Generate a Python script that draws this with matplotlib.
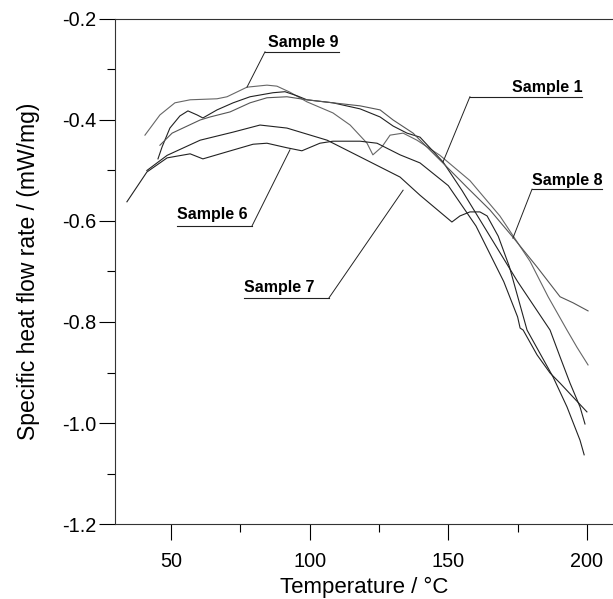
import numpy as np
import matplotlib
matplotlib.use("Agg")
import matplotlib.pyplot as plt
from matplotlib.ticker import MultipleLocator

plt.rcParams["font.family"] = ["Liberation Sans", "DejaVu Sans"]
plt.rcParams["axes.unicode_minus"] = False

# curves (temperature in degC, heat flow in mW/mg)
t9 = [40.6, 46.0, 51.4, 56.9, 66.6, 70.2, 77.4, 84.6, 88.2, 92.9, 99.0, 108.4, 114.6,
      120.7, 122.8, 126.1, 129.0, 133.7, 138.7, 147.0, 157.8, 168.6, 179.5, 186.0, 192.8,
      196.4, 200.4]
v9 = [-0.430, -0.390, -0.366, -0.360, -0.358, -0.354, -0.335, -0.331, -0.333, -0.345, -0.364,
      -0.386, -0.410, -0.446, -0.469, -0.453, -0.430, -0.426, -0.440, -0.470, -0.520, -0.590,
      -0.680, -0.750, -0.816, -0.850, -0.885]

t1 = [45.3, 46.8, 49.6, 53.2, 56.1, 59.4, 61.5, 66.6, 72.4, 78.5, 86.8, 91.1, 95.4, 99.0,
      108.4, 118.2, 125.4, 130.1, 135.1, 139.8, 148.1, 155.0, 165.0, 175.0, 186.7, 190.3,
      193.9, 197.5, 199.3]
v1 = [-0.477, -0.453, -0.416, -0.392, -0.382, -0.390, -0.396, -0.380, -0.366, -0.354, -0.346,
      -0.344, -0.352, -0.360, -0.366, -0.378, -0.394, -0.412, -0.426, -0.434, -0.483, -0.540,
      -0.630, -0.720, -0.816, -0.869, -0.921, -0.968, -1.002]

t8 = [46.0, 50.4, 60.5, 64.1, 71.3, 78.5, 84.6, 91.8, 99.0, 108.4, 118.2, 125.4, 130.1,
      137.3, 140.9, 149.5, 156.7, 165.0, 173.3, 182.0, 190.3, 195.0, 200.4]
v8 = [-0.450, -0.426, -0.400, -0.394, -0.384, -0.366, -0.356, -0.354, -0.360, -0.366, -0.372,
      -0.380, -0.400, -0.426, -0.446, -0.493, -0.533, -0.578, -0.632, -0.691, -0.750, -0.762,
      -0.778]

t7 = [41.3, 48.6, 60.5, 72.4, 82.1, 91.8, 106.3, 118.2, 132.6, 139.8, 151.3, 154.2, 157.8,
      161.4, 164.0, 168.0, 172.0, 178.4, 187.8, 192.8, 197.5, 199.0]
v7 = [-0.500, -0.470, -0.440, -0.424, -0.410, -0.416, -0.440, -0.473, -0.513, -0.549, -0.602,
      -0.590, -0.582, -0.582, -0.590, -0.630, -0.690, -0.816, -0.909, -0.968, -1.034, -1.063]

t6 = [34.1, 41.3, 48.6, 56.9, 61.5, 70.2, 79.6, 84.6, 91.8, 97.2, 103.7, 108.4, 118.2, 124.3,
      132.6, 139.8, 150.0, 160.0, 170.0, 175.0, 175.9, 177.0, 182.0, 186.7, 190.3, 200.0]
v6 = [-0.562, -0.503, -0.475, -0.467, -0.477, -0.463, -0.448, -0.446, -0.455, -0.461, -0.446,
      -0.442, -0.442, -0.446, -0.469, -0.485, -0.530, -0.610, -0.720, -0.790, -0.812, -0.816,
      -0.865, -0.901, -0.921, -0.978]

fig = plt.figure(figsize=(6.13, 5.99), dpi=100)
ax = fig.add_axes([0.1876, 0.1252, 0.8124, 0.8431])

ax.plot(t9, v9, color="#666666", lw=0.8)
ax.plot(t1, v1, color="#222222", lw=0.8)
ax.plot(t8, v8, color="#555555", lw=0.8)
ax.plot(t7, v7, color="#222222", lw=0.8)
ax.plot(t6, v6, color="#222222", lw=0.8)

ax.set_xlim(29.8, 209.4)
ax.set_ylim(-1.2, -0.2)
ax.xaxis.set_major_locator(MultipleLocator(50))
ax.xaxis.set_minor_locator(MultipleLocator(25))
ax.yaxis.set_major_locator(MultipleLocator(0.2))
ax.yaxis.set_minor_locator(MultipleLocator(0.1))
ax.yaxis.set_major_formatter(matplotlib.ticker.FormatStrFormatter("%.1f"))
ax.tick_params(which="major", direction="out", length=11.5, width=0.8, labelsize=14.3)
ax.tick_params(which="minor", direction="out", length=5.5, width=0.8)
ax.tick_params(axis="x", pad=9)
ax.tick_params(axis="y", pad=2)
ax.spines["right"].set_visible(False)
for s in ["left", "bottom", "top"]:
    ax.spines[s].set_linewidth(0.8)
    ax.spines[s].set_color("#333333")

ax.set_xlabel("Temperature / °C", fontsize=16, labelpad=4)
ax.set_ylabel("Specific heat flow rate / (mW/mg)", fontsize=16.5, labelpad=16)

# labels: (text, text left x, text y, underline x0, x1, underline y, leader x, leader y)
labels = [
    ("Sample 9", 85.0, -0.246, 83.9, 110.6, -0.265, (83.9, 77.4), (-0.265, -0.335)),
    ("Sample 6", 52.2, -0.588, 52.2, 79.2, -0.610, (79.2, 92.9), (-0.610, -0.459)),
    ("Sample 7", 76.3, -0.731, 76.3, 107.0, -0.752, (107.0, 133.7), (-0.752, -0.539)),
    ("Sample 1", 173.0, -0.335, 157.8, 198.2, -0.354, (157.8, 148.1), (-0.354, -0.483)),
    ("Sample 8", 180.2, -0.519, 180.2, 205.4, -0.537, (180.2, 173.3), (-0.537, -0.634)),
]
for name, tx, ty, x0, x1, uy, lx, ly in labels:
    ax.text(tx, ty, name, fontsize=11.5, fontweight="bold", va="center", ha="left")
    ax.plot([x0, x1], [uy, uy], color="#222222", lw=0.8)
    ax.plot(lx, ly, color="#222222", lw=0.7)

fig.savefig("out.png", dpi=100)
